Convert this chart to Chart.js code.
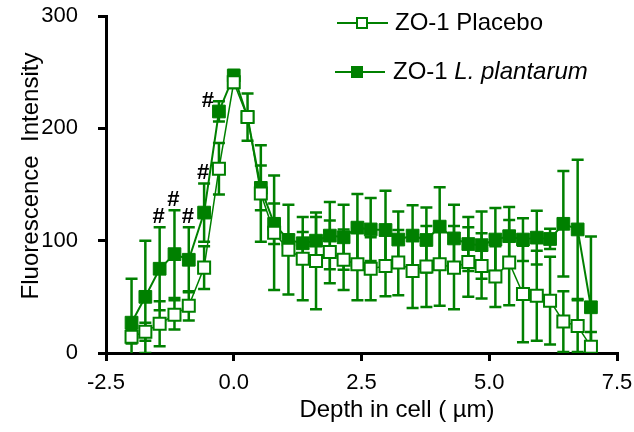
<!DOCTYPE html>
<html>
<head>
<meta charset="utf-8">
<title>ZO-1 depth profile</title>
<script src="https://cdn.jsdelivr.net/npm/chart.js@4.4.1/dist/chart.umd.min.js"></script>
<style>
    html, body { margin: 0; padding: 0; background: #fff; }
    #zo1_wrap { width: 634px; height: 432px; }
</style>
</head>
<body>
<div id="zo1_wrap"><canvas id="zo1_chart" width="634" height="432"></canvas></div>
<script>
// depth positions (µm) and mean +/- error
var depth = [-2.0, -1.73, -1.45, -1.16, -0.88, -0.58, -0.29, 0.0, 0.27, 0.53, 0.79, 1.07, 1.35, 1.61, 1.88, 2.15, 2.42,
             2.68, 2.97, 3.22, 3.50, 3.77, 4.03, 4.31, 4.59, 4.85, 5.12, 5.39, 5.66, 5.93, 6.19, 6.45, 6.73, 6.99];
var placebo = [14.5, 19, 26, 34, 42, 76, 164, 241, 210, 142, 107, 92, 84, 82, 90, 83, 79,
               75, 77.5, 80.5, 73, 77, 79, 76, 81, 77.5, 68, 80.5, 52.5, 51, 46.6, 28, 24, 5.6];
var placebo_err = [6, 8, 20, 13, 13, 19, 23, 5, 21, 43, 51, 40, 37, 43, 28, 27, 32,
                   28, 27, 29, 33, 36, 37, 37, 31, 29, 27, 38, 43, 40, 39, 27, 23, 13];
var plantarum = [27, 50, 75, 88, 83, 125, 215, 247, 210, 147, 115, 100.6, 97.7, 100, 104.5, 103, 111.6,
                 110, 109.5, 101, 104.5, 100.6, 112.5, 102, 97, 96, 101, 104, 101, 102.7, 101.5, 115, 110, 40.7];
var plantarum_err = [39, 50, 37, 39, 29, 26, 9, 5, 5, 20, 18, 5, 10, 21, 30, 29, 30,
                     28, 35, 25, 27, 29, 35, 30, 24, 30, 28, 26, 19, 24, 9, 47, 62, 63];
// points flagged with # (significant difference)
var hash_points = [2, 3, 4, 5, 6];

var x_ticks = [-2.5, 0.0, 2.5, 5.0, 7.5];
var y_ticks = [0, 100, 200, 300];

var font_family = "'Liberation Sans', Arial, sans-serif";
var green = '#008000';

function toPoints(ys) {
    return depth.map(function (d, i) { return { x: d, y: ys[i] }; });
}

// whiskers, drawn under the markers and clipped to the plot area
var errorBars = {
    id: 'errorBars',
    beforeDatasetsDraw: function (chart) {
        var ctx = chart.ctx;
        var area = chart.chartArea;
        var ys = chart.scales.y;
        ctx.save();
        ctx.beginPath();
        ctx.rect(area.left, 0, area.right - area.left + 20, area.bottom);
        ctx.clip();
        chart.data.datasets.forEach(function (ds, i) {
            var meta = chart.getDatasetMeta(i);
            ctx.strokeStyle = ds.borderColor;
            ctx.lineWidth = 2.5;
            meta.data.forEach(function (pt, j) {
                var v = ds.data[j].y;
                var e = ds.errors[j];
                var top = ys.getPixelForValue(v + e);
                var bot = ys.getPixelForValue(v - e);
                ctx.beginPath();
                ctx.moveTo(pt.x, top); ctx.lineTo(pt.x, bot);
                ctx.moveTo(pt.x - 6, top); ctx.lineTo(pt.x + 6, top);
                ctx.moveTo(pt.x - 6, bot); ctx.lineTo(pt.x + 6, bot);
                ctx.stroke();
            });
        });
        ctx.restore();
    }
};

// legend, axis titles and # marks
var extras = {
    id: 'extras',
    afterDraw: function (chart) {
        var ctx = chart.ctx;
        var ys = chart.scales.y;
        var ds_pl = chart.data.datasets[0];
        var ds_lp = chart.data.datasets[1];
        ctx.save();

        // # marks above L. plantarum whiskers
        var meta = chart.getDatasetMeta(1);
        ctx.fillStyle = '#000';
        ctx.font = 'bold 22px ' + font_family;
        ctx.textAlign = 'center';
        ctx.textBaseline = 'middle';
        hash_points.forEach(function (idx, k) {
            var pt = meta.data[idx];
            var top = ys.getPixelForValue(plantarum[idx] + plantarum_err[idx]);
            if (k === hash_points.length - 1) {
                ctx.fillText('#', pt.x - 11, top);
            } else {
                ctx.fillText('#', pt.x - 1, top - 10);
            }
        });

        // legend
        function legendRow(y, x0, x1, mx, ds) {
            ctx.strokeStyle = ds.borderColor;
            ctx.lineWidth = 2;
            ctx.beginPath();
            ctx.moveTo(x0, y); ctx.lineTo(x1, y);
            ctx.stroke();
            ctx.fillStyle = ds.pointBackgroundColor;
            ctx.fillRect(mx - 5, y - 5, 10, 10);
            ctx.lineWidth = 2;
            ctx.strokeRect(mx - 5, y - 5, 10, 10);
        }
        legendRow(23, 337, 388, 362, ds_pl);
        legendRow(72, 335, 385, 357, ds_lp);

        ctx.fillStyle = '#000';
        ctx.textAlign = 'left';
        ctx.textBaseline = 'middle';
        ctx.font = '24px ' + font_family;
        ctx.fillText('ZO-1 Placebo', 395, 23);
        ctx.fillText('ZO-1 ', 393, 72);
        var w = ctx.measureText('ZO-1 ').width;
        ctx.font = 'italic 24px ' + font_family;
        ctx.fillText('L. plantarum', 393 + w, 72);

        // axis titles
        ctx.font = '24px ' + font_family;
        ctx.textAlign = 'center';
        ctx.fillText('Depth in cell ( \u00b5m)', 397, 410);
        ctx.translate(31, 176);
        ctx.rotate(-Math.PI / 2);
        ctx.fillText('Fluorescence  Intensity', 0, 0);
        ctx.restore();
    }
};

var ctx_zo1 = document.getElementById('zo1_chart').getContext('2d');
var zo1Chart = new Chart(ctx_zo1, {
    type: 'line',
    data: {
        datasets: [
            {
                label: 'ZO-1 Placebo',
                data: toPoints(placebo),
                errors: placebo_err,
                borderColor: green,
                borderWidth: 1.5,
                pointStyle: 'rect',
                pointRadius: 8.5,
                pointBorderWidth: 2,
                pointBackgroundColor: '#fff',
                pointBorderColor: green,
                tension: 0
            },
            {
                label: 'ZO-1 L. plantarum',
                data: toPoints(plantarum),
                errors: plantarum_err,
                borderColor: green,
                borderWidth: 2,
                pointStyle: 'rect',
                pointRadius: 9,
                pointBorderWidth: 1,
                pointBackgroundColor: green,
                pointBorderColor: green,
                tension: 0
            }
        ]
    },
    options: {
        responsive: false,
        animation: false,
        events: [],
        layout: { padding: { top: 16, right: 17, left: 0, bottom: 0 } },
        plugins: {
            legend: { display: false },
            tooltip: { enabled: false }
        },
        scales: {
            x: {
                type: 'linear',
                min: -2.5,
                max: 7.5,
                afterBuildTicks: function (scale) {
                    scale.ticks = x_ticks.map(function (v) { return { value: v }; });
                },
                afterFit: function (scale) {
                    scale.height = 79;
                    scale.paddingLeft = 0;
                    scale.paddingRight = 0;
                },
                border: { display: true, color: '#000', width: 3 },
                grid: { drawOnChartArea: false, drawTicks: true, tickLength: 8, color: '#000', lineWidth: 3 },
                ticks: {
                    color: '#000',
                    padding: 9,
                    maxRotation: 0,
                    autoSkip: false,
                    font: { family: font_family, size: 22 },
                    callback: function (v) { return v.toFixed(1); }
                }
            },
            y: {
                min: 0,
                max: 300,
                afterBuildTicks: function (scale) {
                    scale.ticks = y_ticks.map(function (v) { return { value: v }; });
                },
                afterFit: function (scale) {
                    scale.width = 106;
                    scale.paddingTop = 0;
                    scale.paddingBottom = 0;
                },
                border: { display: true, color: '#000', width: 3 },
                grid: { drawOnChartArea: false, drawTicks: true, tickLength: 8, color: '#000', lineWidth: 3 },
                ticks: {
                    color: '#000',
                    padding: 20,
                    font: { family: font_family, size: 22 }
                }
            }
        }
    },
    plugins: [errorBars, extras]
});
</script>
</body>
</html>
